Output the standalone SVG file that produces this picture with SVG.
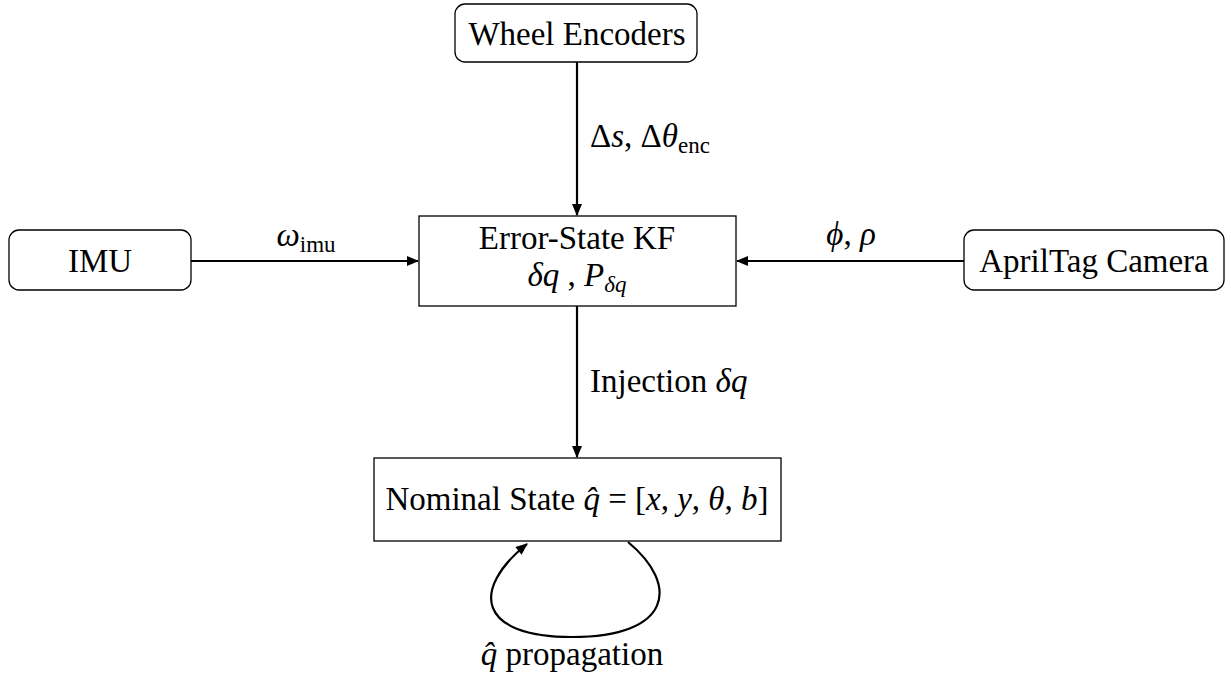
<svg xmlns="http://www.w3.org/2000/svg" width="1231" height="684" viewBox="0 0 1231 684">
<defs>
<marker id="arr" viewBox="0 0 12 10" refX="11" refY="5" markerWidth="13" markerHeight="10" markerUnits="userSpaceOnUse" orient="auto">
<path d="M0,0 L12,5 L0,10 Z" fill="#000"/>
</marker>
</defs>
<style>
.box{fill:#fff;stroke:#000;stroke-width:1.3}
.edge{fill:none;stroke:#000;stroke-width:2.2}
text{font-family:"Liberation Serif",serif !important}
</style>
<rect width="1231" height="684" fill="#fff"/>
<g id="connectors">
<line class="edge" x1="577" y1="62" x2="577" y2="215" marker-end="url(#arr)"/>
<line class="edge" x1="191" y1="261" x2="418" y2="261" marker-end="url(#arr)"/>
<line class="edge" x1="964" y1="261" x2="737" y2="261" marker-end="url(#arr)"/>
<line class="edge" x1="577" y1="306" x2="577" y2="457" marker-end="url(#arr)"/>
<path class="edge" d="M628 542 C680 585 672 637 572 637 C478 637 470 590 527 544" marker-end="url(#arr)"/>
</g>
<g font-family="Liberation Serif" font-size="33" fill="#000" text-anchor="middle">
<g id="wheel-encoders">
<rect class="box" x="455" y="4" width="242" height="58" rx="10"/>
<text x="577" y="45" style="font-family:'Liberation Serif',serif">Wheel Encoders</text>
</g>
<g id="label-enc">
<text x="590" y="147" text-anchor="start" style="font-family:'Liberation Serif',serif">Δ<tspan font-style="italic">s</tspan>,  Δ<tspan font-style="italic">θ</tspan><tspan font-size="23" dy="6">enc</tspan></text>
</g>
<g id="error-state-kf">
<rect class="box" x="419" y="216" width="317" height="90"/>
<text x="577" y="249" style="font-family:'Liberation Serif',serif">Error-State KF</text>
<text x="577" y="286" style="font-family:'Liberation Serif',serif"><tspan font-style="italic">δq</tspan> , <tspan font-style="italic">P</tspan><tspan font-style="italic" font-size="23" dy="6">δq</tspan></text>
</g>
<g id="imu">
<rect class="box" x="9" y="230" width="182" height="60" rx="10"/>
<text x="100" y="272" style="font-family:'Liberation Serif',serif">IMU</text>
</g>
<g id="label-imu">
<text x="306" y="246" style="font-family:'Liberation Serif',serif"><tspan font-style="italic">ω</tspan><tspan font-size="23" dy="6">imu</tspan></text>
</g>
<g id="apriltag-camera">
<rect class="box" x="964" y="230" width="260" height="60" rx="10"/>
<text x="1094" y="272" style="font-family:'Liberation Serif',serif">AprilTag Camera</text>
</g>
<g id="label-cam">
<text x="851" y="245" style="font-family:'Liberation Serif',serif"><tspan font-style="italic">ϕ</tspan>,  <tspan font-style="italic">ρ</tspan></text>
</g>
<g id="label-inj">
<text x="590" y="392" text-anchor="start" style="font-family:'Liberation Serif',serif">Injection <tspan font-style="italic">δq</tspan></text>
</g>
<g id="nominal-state">
<rect class="box" x="374" y="458" width="407" height="83"/>
<text x="577" y="510" style="font-family:'Liberation Serif',serif">Nominal State <tspan font-style="italic">q̂</tspan> = [<tspan font-style="italic">x</tspan>, <tspan font-style="italic">y</tspan>, <tspan font-style="italic">θ</tspan>, <tspan font-style="italic">b</tspan>]</text>
</g>
<g id="label-prop">
<text x="572" y="665" style="font-family:'Liberation Serif',serif"><tspan font-style="italic">q̂</tspan> propagation</text>
</g>
</g>
</svg>
